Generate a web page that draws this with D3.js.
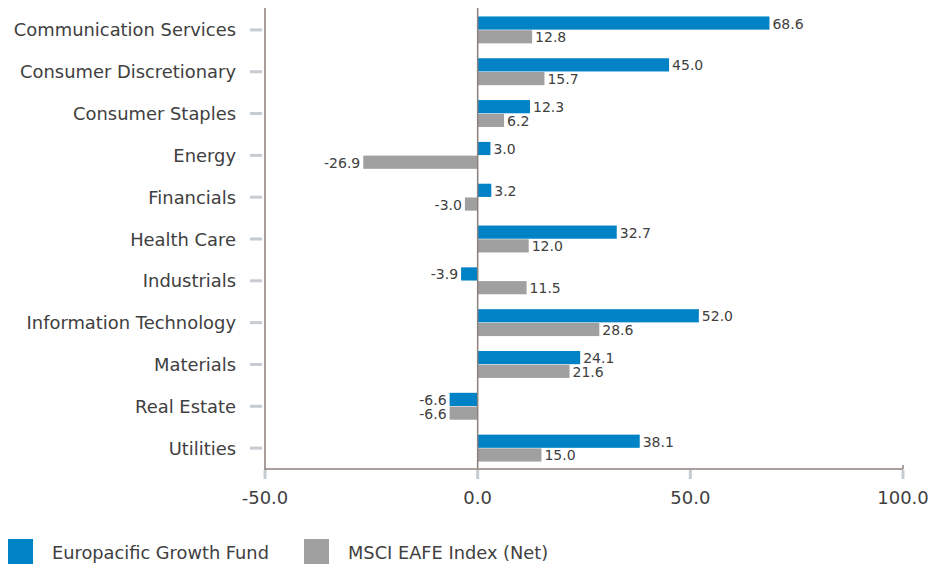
<!DOCTYPE html>
<html><head><meta charset="utf-8">
<script src="https://cdn.jsdelivr.net/npm/d3@7"></script>
<style>
html,body{margin:0;padding:0;background:#fff;}
svg{display:block;font-family:"DejaVu Sans",sans-serif;}
</style></head>
<body>
<svg id="chart" width="932" height="565"></svg>
<script>
const categories = ["Communication Services","Consumer Discretionary","Consumer Staples","Energy","Financials","Health Care","Industrials","Information Technology","Materials","Real Estate","Utilities"];
const fundValues = [68.6,45.0,12.3,3.0,3.2,32.7,-3.9,52.0,24.1,-6.6,38.1];
const indexValues = [12.8,15.7,6.2,-26.9,-3.0,12.0,11.5,28.6,21.6,-6.6,15.0];
const seriesNames = ["Europacific Growth Fund","MSCI EAFE Index (Net)"];
const xTicks = [-50,0,50,100];

(function(){
const colors = ["#0082C6","#A0A0A0"];
const textColor = "#404040";
const axisColor = "#8C817C";
const tickColor = "#C5CBD1";
const fmt = d3.formatLocale({decimal:".",thousands:",",grouping:[3],currency:["$",""],minus:"-"}).format(".1f");

const svg = d3.select("#chart");
const mLeft = 265, mRight = 903, mTop = 9, mBottom = 469;

const x = d3.scaleLinear().domain([-50,100]).range([mLeft,mRight]);
const y = d3.scaleBand().domain(categories).range([mTop,mBottom]).paddingInner(0.33).paddingOuter(0.165);
const ySub = d3.scaleBand().domain([0,1]).range([0,y.bandwidth()]).padding(0.04);

const data = categories.map((c,i)=>({cat:c, vals:[fundValues[i], indexValues[i]]}));

// y-axis tick marks (left)
svg.append("g").selectAll("line").data(categories).join("line")
  .attr("x1",mLeft-15).attr("x2",mLeft-3)
  .attr("y1",d=>y(d)+y.bandwidth()/2).attr("y2",d=>y(d)+y.bandwidth()/2)
  .attr("stroke",tickColor).attr("stroke-width",3);

// category labels
svg.append("g").selectAll("text").data(categories).join("text")
  .attr("x",mLeft-29).attr("y",d=>y(d)+y.bandwidth()/2)
  .attr("text-anchor","end").attr("dominant-baseline","central")
  .attr("font-size","17.9px").attr("fill",textColor).text(d=>d);

// x tick marks
svg.append("g").selectAll("line").data(xTicks).join("line")
  .attr("x1",d=>x(d)).attr("x2",d=>x(d)).attr("y1",mBottom+1).attr("y2",mBottom+10)
  .attr("stroke",tickColor).attr("stroke-width",3);

// x tick labels
svg.append("g").selectAll("text").data(xTicks).join("text")
  .attr("x",d=>x(d)).attr("y",mBottom+28).attr("text-anchor","middle")
  .attr("dominant-baseline","central")
  .attr("font-size","18px").attr("fill",textColor).text(d=>fmt(d));

// bars
const g = svg.append("g").selectAll("g").data(data).join("g")
  .attr("transform",d=>`translate(0,${y(d.cat)})`);
g.selectAll("rect").data(d=>d.vals).join("rect")
  .attr("x",v=>x(Math.min(0,v))).attr("width",v=>Math.abs(x(v)-x(0)))
  .attr("y",(v,i)=>ySub(i)).attr("height",ySub.bandwidth())
  .attr("fill",(v,i)=>colors[i]);
g.selectAll("text").data(d=>d.vals).join("text")
  .attr("x",v=>v>=0 ? x(v)+3 : x(v)-3)
  .attr("y",(v,i)=>ySub(i)+ySub.bandwidth()/2+0.5)
  .attr("text-anchor",v=>v>=0?"start":"end")
  .attr("dominant-baseline","central")
  .attr("font-size","14px").attr("fill",textColor)
  .text(v=>fmt(v));

// axes lines
svg.append("line").attr("x1",mLeft).attr("x2",mLeft).attr("y1",mTop-1).attr("y2",mBottom+1)
  .attr("stroke",axisColor).attr("stroke-width",1.5);
svg.append("line").attr("x1",x(0)).attr("x2",x(0)).attr("y1",mTop-1).attr("y2",mBottom)
  .attr("stroke",axisColor).attr("stroke-width",1.5);
svg.append("line").attr("x1",mLeft).attr("x2",mRight).attr("y1",mBottom).attr("y2",mBottom)
  .attr("stroke",axisColor).attr("stroke-width",1.5);
svg.append("line").attr("x1",mRight).attr("x2",mRight).attr("y1",mBottom-4).attr("y2",mBottom)
  .attr("stroke",axisColor).attr("stroke-width",1.5);

// legend
const legendX = [8,304];
const lg = svg.append("g").selectAll("g").data(seriesNames).join("g")
  .attr("transform",(d,i)=>`translate(${legendX[i]},539)`);
lg.append("rect").attr("width",25).attr("height",25).attr("fill",(d,i)=>colors[i]);
lg.append("text").attr("x",44).attr("y",13).attr("dominant-baseline","central")
  .attr("font-size","17.8px").attr("fill",textColor).text(d=>d);
})();
</script>
</body></html>
